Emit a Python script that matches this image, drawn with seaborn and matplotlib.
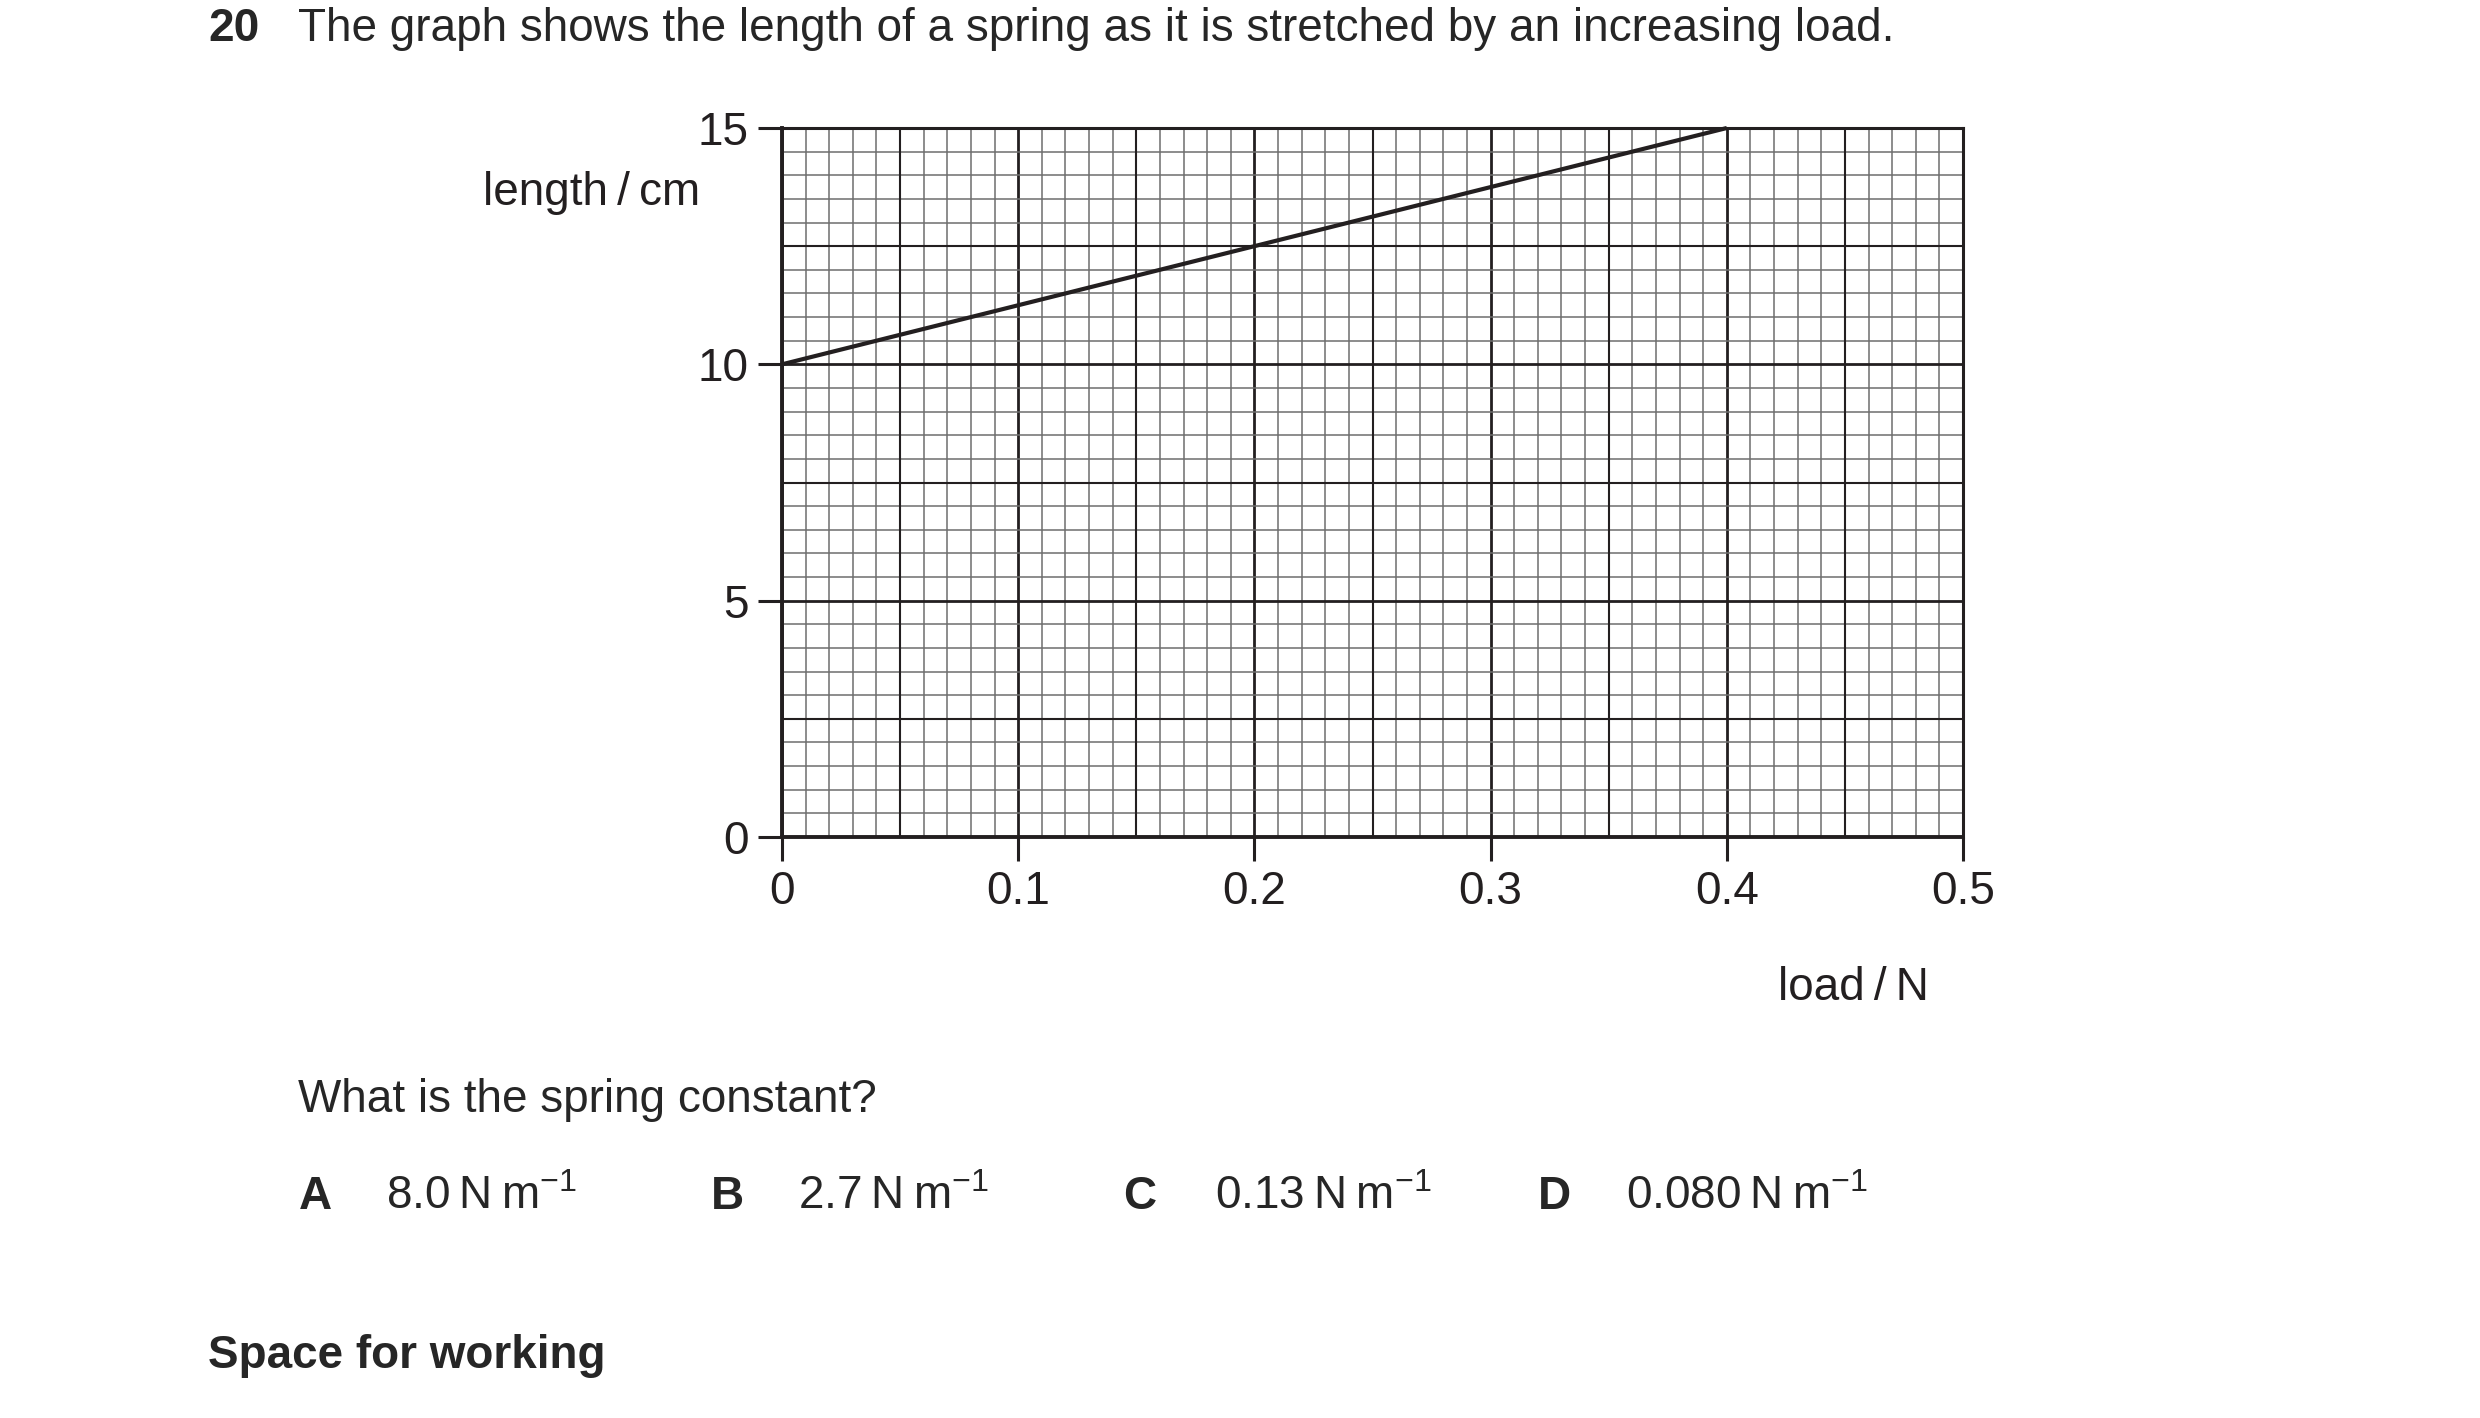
import matplotlib
matplotlib.use("Agg")
import matplotlib.pyplot as plt
import numpy as np
import pandas as pd
import seaborn as sns

# ---- data ----
load_N = [0.0, 0.4]
length_cm = [10.0, 15.0]
x_ticks = [0.0, 0.1, 0.2, 0.3, 0.4, 0.5]
x_tick_labels = ["0", "0.1", "0.2", "0.3", "0.4", "0.5"]
y_ticks = [0, 5, 10, 15]
y_tick_labels = ["0", "5", "10", "15"]
option_letters = ["A", "B", "C", "D"]
option_values = ["8.0", "2.7", "0.13", "0.080"]

sns.set_style("white")
plt.rcParams["font.family"] = ["Liberation Sans", "DejaVu Sans"]
plt.rcParams["mathtext.fontset"] = "custom"
plt.rcParams["mathtext.rm"] = "Liberation Sans"
plt.rcParams["mathtext.it"] = "Liberation Sans:italic"
plt.rcParams["mathtext.bf"] = "Liberation Sans:bold"

W, H = 2480, 1418
DPI = 100
fig = plt.figure(figsize=(W / DPI, H / DPI), dpi=DPI)
fig.patch.set_facecolor("white")

INK = "#231f20"
FS = 33

def fx(px):
    return px / W

def fy(py):
    return 1 - py / H

ax = fig.add_axes([fx(782), fy(837), fx(1963) - fx(782), fy(128) - fy(837)])

df = pd.DataFrame({"load": load_N, "length": length_cm})
sns.lineplot(data=df, x="load", y="length", ax=ax, color=INK, linewidth=3.0,
             zorder=5, clip_on=False, solid_capstyle="butt")

ax.set_xlim(0, 0.5)
ax.set_ylim(0, 15)

# graph paper grid
ax.set_xticks(x_ticks)
ax.set_xticklabels(x_tick_labels)
ax.set_yticks(y_ticks)
ax.set_yticklabels(y_tick_labels)
ax.set_xticks(np.arange(0, 0.5001, 0.01), minor=True)
ax.set_yticks(np.arange(0, 15.001, 0.5), minor=True)
ax.set_axisbelow(True)
ax.grid(which="minor", color="#6e6e6e", linewidth=1.1)
ax.grid(which="major", color=INK, linewidth=2.0)
for xv in np.arange(0.05, 0.5, 0.1):
    ax.axvline(xv, color=INK, linewidth=1.5, zorder=0.8)
for yv in np.arange(2.5, 15, 5):
    ax.axhline(yv, color=INK, linewidth=1.5, zorder=0.8)

for side in ["left", "bottom"]:
    ax.spines[side].set_linewidth(2.8)
    ax.spines[side].set_color(INK)
for side in ["top", "right"]:
    ax.spines[side].set_linewidth(2.2)
    ax.spines[side].set_color(INK)

ax.tick_params(which="major", direction="out", length=17, width=2.2, color=INK,
               labelsize=FS, labelcolor=INK, pad=7, bottom=True, left=True)
ax.tick_params(which="minor", length=0, bottom=False, left=False)
ax.set_xlabel("")
ax.set_ylabel("")

# ---- texts ----
fig.text(fx(208), fy(41), "20", fontsize=FS, fontweight="bold", va="baseline", ha="left")
fig.text(fx(298), fy(41),
         "The graph shows the length of a spring as it is stretched by an increasing load.",
         fontsize=FS, va="baseline", ha="left")
fig.text(fx(483), fy(205), "length\u2009/\u2009cm", fontsize=FS, va="baseline", ha="left", color=INK)
fig.text(fx(1778), fy(1000), "load\u2009/\u2009N", fontsize=FS, va="baseline", ha="left", color=INK)
fig.text(fx(298), fy(1112), "What is the spring constant?", fontsize=FS, va="baseline", ha="left")

letter_x = [299, 711, 1123, 1538]
value_x = [386, 798, 1215, 1626]
for lx, vx, let, val in zip(letter_x, value_x, option_letters, option_values):
    fig.text(fx(lx), fy(1209), let, fontsize=FS, fontweight="bold", va="baseline", ha="left")
    fig.text(fx(vx), fy(1209), val + "\u2009N\u2009$\\mathrm{m}^{-1}$", fontsize=FS,
             va="baseline", ha="left")

fig.text(fx(208), fy(1368), "Space for working", fontsize=FS, fontweight="bold",
         va="baseline", ha="left")

fig.savefig("out.png", dpi=DPI, facecolor="white")
